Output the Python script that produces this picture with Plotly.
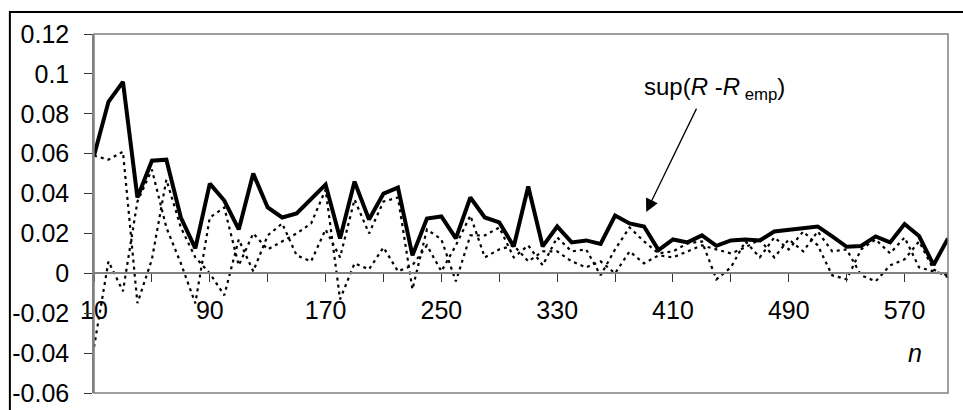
import plotly.graph_objects as go

# ---- data ----
n_values = list(range(10, 601, 10))

sup_diff = [0.059, 0.086, 0.096, 0.038, 0.0565, 0.057, 0.028, 0.0125, 0.045, 0.0365,
            0.022, 0.050, 0.033, 0.028, 0.030, 0.0375, 0.0445, 0.0175, 0.046, 0.027,
            0.040, 0.043, 0.009, 0.0275, 0.0285, 0.0175, 0.038, 0.028, 0.0255, 0.0135,
            0.0435, 0.0135, 0.0235, 0.0155, 0.0165, 0.0147, 0.029, 0.025, 0.0235, 0.0117,
            0.017, 0.0155, 0.019, 0.0138, 0.0165, 0.017, 0.0165, 0.021, 0.0217, 0.0225,
            0.0235, 0.0185, 0.0133, 0.0137, 0.0185, 0.0155, 0.0247, 0.0187, 0.0042, 0.0175]

dotted_a = [0.059, 0.057, 0.061, -0.015, 0.007, 0.047, 0.023, 0.008, 0.000, -0.011,
            0.017, 0.001, 0.019, 0.025, 0.009, 0.006, 0.022, 0.008, 0.037, 0.020,
            0.036, 0.038, -0.008, 0.022, 0.017, -0.004, 0.019, 0.019, 0.023, 0.008,
            0.014, 0.004, 0.018, 0.011, 0.012, -0.001, 0.012, 0.023, 0.016, 0.010,
            0.011, 0.015, 0.016, -0.003, 0.003, 0.016, 0.008, 0.018, 0.012, 0.021,
            0.014, -0.001, -0.003, 0.012, 0.017, 0.010, 0.018, 0.003, 0.001, -0.001]

dotted_b = [-0.037, 0.006, -0.009, 0.036, 0.052, 0.023, 0.005, -0.015, 0.028, 0.033,
            0.004, 0.020, 0.012, 0.016, 0.020, 0.025, 0.042, -0.013, 0.005, 0.002,
            0.013, 0.001, 0.004, 0.014, 0.001, 0.014, 0.029, 0.008, 0.012, 0.014,
            0.006, 0.011, 0.011, 0.006, 0.003, 0.006, 0.000, 0.011, 0.005, 0.009,
            0.008, 0.011, 0.014, 0.012, 0.010, 0.013, 0.017, 0.008, 0.017, 0.011,
            0.021, 0.011, 0.012, -0.001, -0.004, 0.004, 0.007, 0.016, 0.002, -0.002]

y_tick_values = [0.12, 0.1, 0.08, 0.06, 0.04, 0.02, 0, -0.02, -0.04, -0.06]
y_tick_labels = ["0.12", "0.1", "0.08", "0.06", "0.04", "0.02", "0", "-0.02", "-0.04", "-0.06"]

x_tick_values = n_values[::4]
x_tick_labels = [str(v) if k % 2 == 0 else "" for k, v in enumerate(x_tick_values)]

FONT = "Liberation Sans, Arial, sans-serif"

fig = go.Figure()
dot_style = dict(color="black", width=2.2, dash="3px,4px")
fig.add_trace(go.Scatter(x=n_values, y=dotted_a, mode="lines", line=dot_style, hoverinfo="skip"))
fig.add_trace(go.Scatter(x=n_values, y=dotted_b, mode="lines", line=dot_style, hoverinfo="skip"))
fig.add_trace(go.Scatter(x=n_values, y=sup_diff, mode="lines",
                         line=dict(color="black", width=4), hoverinfo="skip"))

fig.update_layout(
    width=963, height=410,
    margin=dict(l=94, r=15, t=34, b=17, autoexpand=False),
    paper_bgcolor="white", plot_bgcolor="white",
    showlegend=False,
    font=dict(family=FONT, size=25, color="black"),
    xaxis=dict(
        range=[10, 600], tickmode="array", tickvals=x_tick_values, ticktext=x_tick_labels,
        ticks="outside", ticklen=8, tickwidth=1.2, tickcolor="#333333",
        showline=True, linecolor="#808080", linewidth=1.5,
        showgrid=False, zeroline=False, automargin=False,
        anchor="free", position=1/3, ticklabelstandoff=7,
        tickfont=dict(family=FONT, size=25, color="black"),
    ),
    yaxis=dict(
        range=[-0.06, 0.12], tickmode="array", tickvals=y_tick_values, ticktext=y_tick_labels,
        ticks="outside", ticklen=8, tickwidth=1.2, tickcolor="#333333",
        showline=True, linecolor="#808080", linewidth=1.5,
        showgrid=False, zeroline=False, ticklabelstandoff=10, automargin=False,
        tickfont=dict(family=FONT, size=25, color="black"),
    ),
    shapes=[
        dict(type="rect", xref="paper", yref="paper", x0=0, y0=0, x1=1, y1=1,
             line=dict(color="#808080", width=1.5)),
        dict(type="rect", xref="paper", yref="paper", x0=-0.0985, y0=-0.08, x1=1.03, y1=1.0613,
             line=dict(color="black", width=2)),
    ],
    annotations=[
        dict(x=438.5, y=0.0929, xref="x", yref="y", showarrow=False,
             text="sup(<i>R</i> -<i>R</i><sub> emp</sub>)",
             font=dict(family=FONT, size=24, color="black"),
             xanchor="center", yanchor="middle"),
        dict(x=391.5, y=0.0307, xref="x", yref="y", text="", showarrow=True,
             ax=51, ay=-105, arrowhead=2, arrowsize=2, arrowwidth=1.3, arrowcolor="black"),
        dict(x=577.4, y=-0.040, xref="x", yref="y", showarrow=False, text="<i>n</i>",
             font=dict(family=FONT, size=25, color="black"),
             xanchor="center", yanchor="middle"),
    ],
)

fig.write_html("out.html")
